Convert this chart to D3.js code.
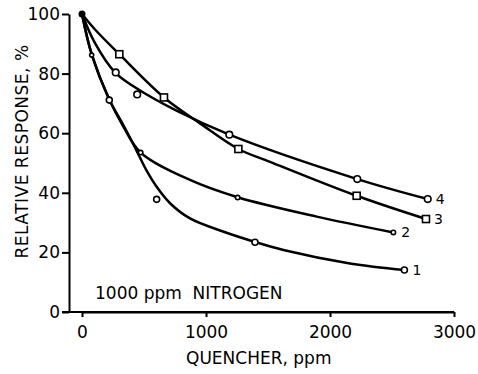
<!DOCTYPE html>
<html>
<head>
<meta charset="utf-8">
<script src="https://cdn.jsdelivr.net/npm/d3@7"></script>
<style>
  body { margin: 0; background: #fff; }
  svg text { font-family: "DejaVu Sans", sans-serif; fill: #000; }
</style>
</head>
<body>
<div id="chart"></div>
<script>
// Trục
const xTicks = [0, 1000, 2000, 3000];
const yTicks = [0, 20, 40, 60, 80, 100];

// Điểm đo (ppm, %)
const pts1 = [[78, 86.2], [220, 71.1], [602, 37.8], [1395, 23.4], [2600, 14.1]];
const pts2 = [[473, 53.5], [1255, 38.4], [2511, 26.7]];
const pts3 = [[301, 86.5], [661, 72], [1261, 54.7], [2215, 39], [2774, 31.2]];
const pts4 = [[272, 80.4], [445, 73], [1188, 59.5], [2220, 44.6], [2788, 37.9]];

// Đường cong vẽ tay
const fit1 = [[0, 100], [78, 86.5], [220, 71.3], [330, 63], [430, 55], [520, 47.5], [602, 42], [710, 36.5],
  [871, 31.4], [1137, 27], [1395, 23.5], [1624, 20.8], [2161, 16.3], [2600, 14.1]];
const fit2 = [[0, 100], [78, 86.5], [220, 71.3], [330, 62.5], [473, 53.5], [871, 44.3], [1255, 38.5],
  [1893, 32], [2511, 26.7]];
const fit3 = [[0, 100], [105, 94.8], [301, 86.5], [661, 72], [952, 63.3], [1261, 54.7],
  [1516, 50.4], [2215, 39], [2774, 31.2]];
const fit4 = [[0, 100], [105, 90.2], [266, 80.4], [427, 75.4], [750, 67.8], [1188, 59.5], [2220, 44.6],
  [2788, 37.9]];

const curveLabels = ["1", "2", "3", "4"];

const width = 478, height = 374;
const svg = d3.select("#chart").append("svg")
  .attr("width", width).attr("height", height);

const x = d3.scaleLinear().domain([0, 3000]).range([82, 454]);
const y = d3.scaleLinear().domain([0, 100]).range([312, 14]);

// Trục Y
const yAxis = svg.append("g")
  .attr("transform", "translate(69,0)")
  .call(d3.axisLeft(y).tickValues(yTicks).tickSize(7).tickSizeOuter(0).tickPadding(2)
    .tickFormat(d3.format("d")));
yAxis.selectAll("text").style("font-size", "17px").style("font-family", "DejaVu Sans");

// Trục X
const xAxis = svg.append("g")
  .attr("transform", "translate(0,312)")
  .call(d3.axisBottom(x).tickValues(xTicks).tickSize(5).tickSizeOuter(0).tickPadding(9)
    .tickFormat(d3.format("d")));
xAxis.selectAll("text").style("font-size", "17px").style("font-family", "DejaVu Sans");
svg.append("line")
  .attr("x1", 62).attr("x2", x(3000)).attr("y1", 312).attr("y2", 312)
  .attr("stroke", "#000").attr("stroke-width", 2);

svg.selectAll(".domain, .tick line").attr("stroke", "#000").attr("stroke-width", 2);

// Đường cong
const line = d3.line()
  .x(d => x(d[0])).y(d => y(d[1]))
  .curve(d3.curveCatmullRom.alpha(0.5));

[fit1, fit2, fit3, fit4].forEach(f => {
  svg.append("path")
    .attr("d", line(f))
    .attr("fill", "none")
    .attr("stroke", "#000")
    .attr("stroke-width", 2.5);
});

// Điểm gốc
svg.append("circle")
  .attr("cx", x(0)).attr("cy", y(100)).attr("r", 3.5).attr("fill", "#000");

// Điểm tròn
function circles(data, r) {
  svg.append("g").selectAll("circle")
    .data(data).enter().append("circle")
    .attr("cx", d => x(d[0])).attr("cy", d => y(d[1]))
    .attr("r", r)
    .attr("fill", "#fff").attr("stroke", "#000").attr("stroke-width", 1.6);
}
circles(pts1.slice(0, 1), 2);
circles(pts1.slice(1), 3);
circles(pts2, 2.2);
circles(pts4, 3.3);

// Điểm vuông
svg.append("g").selectAll("rect")
  .data(pts3).enter().append("rect")
  .attr("x", d => x(d[0]) - 3.5).attr("y", d => y(d[1]) - 3.5)
  .attr("width", 7).attr("height", 7)
  .attr("fill", "#fff").attr("stroke", "#000").attr("stroke-width", 1.6);

// Nhãn đường cong
[pts1, pts2, pts3, pts4].forEach((p, i) => {
  const last = p[p.length - 1];
  svg.append("text")
    .attr("x", x(last[0]) + 8).attr("y", y(last[1]) + 5)
    .style("font-size", "14px")
    .text(curveLabels[i]);
});

// Chú thích
svg.append("text")
  .attr("x", 95).attr("y", 299)
  .style("font-size", "17px")
  .style("white-space", "pre")
  .text("1000 ppm  NITROGEN");

svg.append("text")
  .attr("x", 186).attr("y", 364)
  .style("font-size", "17px")
  .text("QUENCHER, ppm");

svg.append("text")
  .attr("transform", "translate(28,151.5) rotate(-90)")
  .attr("text-anchor", "middle")
  .style("font-size", "17px")
  .style("letter-spacing", "0.5px")
  .text("RELATIVE RESPONSE, %");
</script>
</body>
</html>
